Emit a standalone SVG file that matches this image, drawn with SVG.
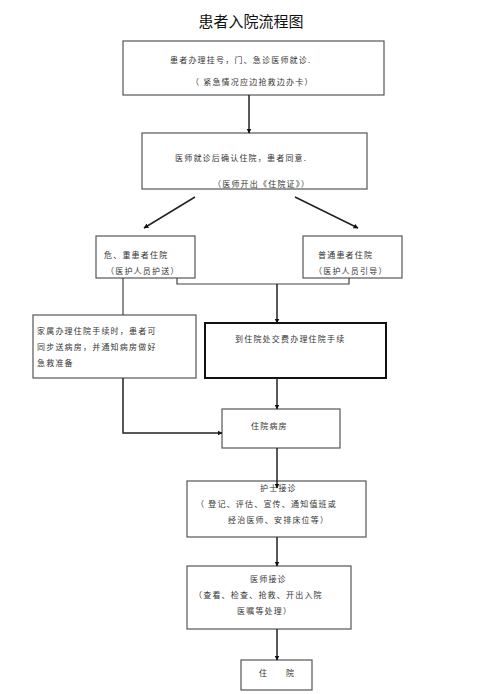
<svg xmlns="http://www.w3.org/2000/svg" width="487" height="694" viewBox="0 0 487 694">
<defs>
<style>
.b{fill:#fff;stroke:#555;stroke-width:1.2}
.bk{fill:#fff;stroke:#111;stroke-width:2}
.t{font-family:"Noto Sans CJK SC","Liberation Sans",sans-serif;font-size:8px;fill:#333;letter-spacing:1.2px}
.l{fill:none;stroke:#444;stroke-width:1.2}
.a{fill:none;stroke:#222;stroke-width:1.5;marker-end:url(#ah)}
</style>
<marker id="ah" viewBox="0 0 10 10" refX="9" refY="5" markerWidth="5" markerHeight="5" orient="auto" markerUnits="userSpaceOnUse">
<path d="M0,0 L10,5 L0,10 z" fill="#111"/>
</marker>
</defs>
<rect width="487" height="694" fill="#fff"/>
<text x="251" y="27" text-anchor="middle" font-family="Noto Sans CJK SC,sans-serif" font-size="15" fill="#111">患者入院流程图</text>

<g id="n1">
<rect class="b" x="123" y="41" width="261" height="54"/>
<text class="t" x="170" y="63">患者办理挂号，门、急诊医师就诊.</text>
<text class="t" x="191" y="85">（ 紧急情况应边抢救边办卡）</text>
</g>
<g id="n2">
<rect class="b" x="142" y="133" width="225" height="56"/>
<text class="t" x="175" y="161">医师就诊后确认住院，患者同意.</text>
<text class="t" x="213" y="187">（医师开出《住院证》）</text>
</g>
<g id="n3">
<rect class="b" x="96" y="236" width="99" height="42"/>
<text class="t" x="104" y="258">危、重患者住院</text>
<text class="t" x="106" y="274">（医护人员护送）</text>
</g>
<g id="n4">
<rect class="b" x="303" y="236" width="99" height="42"/>
<text class="t" x="318" y="258">普通患者住院</text>
<text class="t" x="314" y="274">（医护人员引导）</text>
</g>
<g id="n5">
<rect class="b" x="33" y="315" width="163" height="63"/>
<text class="t" x="37" y="334">家属办理住院手续时，患者可</text>
<text class="t" x="37" y="350">同步送病房，并通知病房做好</text>
<text class="t" x="37" y="366">急救准备</text>
</g>
<g id="n6">
<rect class="bk" x="205" y="323" width="181" height="55"/>
<text class="t" x="235" y="342">到住院处交费办理住院手续</text>
</g>
<g id="n7">
<rect class="b" x="222" y="409" width="118" height="39"/>
<text class="t" x="251" y="429">住院病房</text>
</g>
<g id="n8">
<rect class="b" x="187" y="481" width="179" height="56"/>
<text class="t" x="260" y="491">护士接诊</text>
<text class="t" x="196" y="507">（ 登记、评估、宣传、通知值班或</text>
<text class="t" x="228" y="523">经治医师、安排床位等）</text>
</g>
<g id="n9">
<rect class="b" x="187" y="566" width="164" height="63"/>
<text class="t" x="250" y="582">医师接诊</text>
<text class="t" x="194" y="598">（查看、检查、抢救、开出入院</text>
<text class="t" x="237" y="614">医嘱等处理）</text>
</g>
<g id="n10">
<rect class="b" x="241" y="660" width="71" height="30"/>
<text class="t" x="259" y="676">住</text>
<text class="t" x="286" y="676">院</text>
</g>

<g id="connectors">
<line class="a" x1="249" y1="95" x2="249" y2="133"/>
<line class="a" x1="195" y1="197" x2="144" y2="228"/>
<line class="a" x1="295" y1="197" x2="358" y2="228"/>
<line class="l" x1="123" y1="278" x2="123" y2="315"/>
<polyline class="l" points="177,278 177,284 349,284 349,278"/>
<line class="a" x1="277" y1="284" x2="277" y2="323"/>
<polyline class="a" points="123,378 123,433 222,433"/>
<line class="a" x1="277" y1="378" x2="277" y2="409"/>
<line class="a" x1="277" y1="448" x2="277" y2="488"/>
<line class="a" x1="277" y1="537" x2="277" y2="566"/>
<line class="a" x1="277" y1="629" x2="277" y2="660"/>
</g>
</svg>
